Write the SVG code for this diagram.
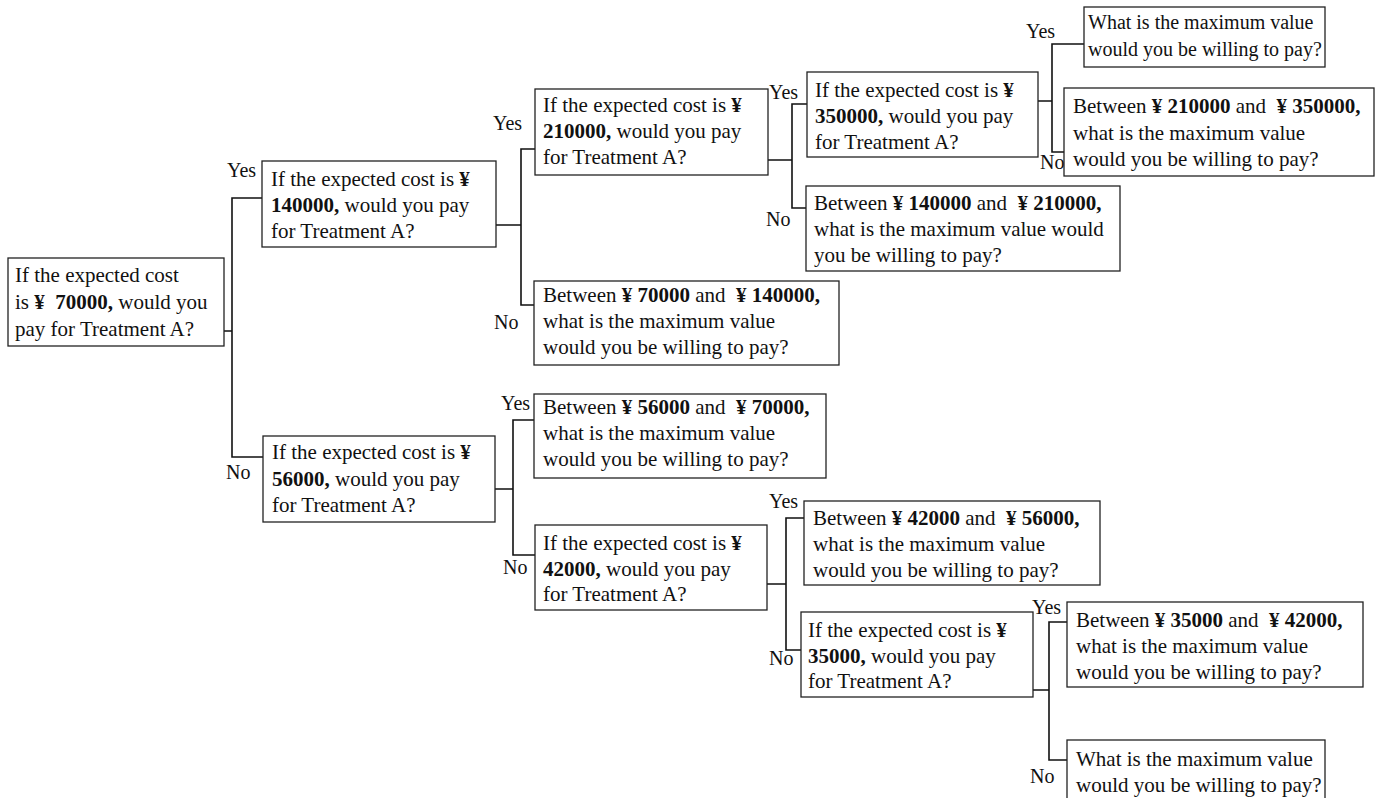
<svg xmlns="http://www.w3.org/2000/svg" width="1380" height="798" viewBox="0 0 1380 798">
<style>
.box{fill:#fff;stroke:#222;stroke-width:1.3}
.t{font-family:"Liberation Serif","Times New Roman",serif;font-size:21px;fill:#111}
.s{font-size:20px}
.b{font-weight:bold}
.conn{stroke:#111;stroke-width:1.6;fill:none}
</style>
<rect width="1380" height="798" fill="#fff"/>
<g id="connectors">
<path class="conn" d="M224,331 H232 M262,198 H232 V457 H263"/>
<path class="conn" d="M496,225 H521 M535,149 H521 V305 H534"/>
<path class="conn" d="M768,160 H792 M807,104 H792 V208 H806"/>
<path class="conn" d="M1038,101 H1052 M1084,44 H1052 V152 H1064"/>
<path class="conn" d="M495,489 H513 M534,420 H513 V555 H535"/>
<path class="conn" d="M767,584 H786 M804,518 H786 V650 H801"/>
<path class="conn" d="M1033,690 H1049 M1067,622 H1049 V760 H1067"/>
</g>
<g id="labels" class="t s">
<text x="227" y="177">Yes</text><text x="226" y="479">No</text>
<text x="493" y="130">Yes</text><text x="494" y="329">No</text>
<text x="769" y="99">Yes</text><text x="766" y="226">No</text>
<text x="1026" y="38">Yes</text><text x="1040" y="169">No</text>
<text x="501" y="410">Yes</text><text x="503" y="574">No</text>
<text x="769" y="508">Yes</text><text x="769" y="665">No</text>
<text x="1032" y="614">Yes</text><text x="1030" y="783">No</text>
</g>
<g id="root">
<rect class="box" x="8" y="258" width="216" height="88"/>
<text class="t" x="15" y="282">If the expected cost</text>
<text class="t" x="15" y="309" xml:space="preserve">is <tspan class="b">¥  70000,</tspan> would you</text>
<text class="t" x="15" y="336">pay for Treatment A?</text>
</g>
<g id="q140000">
<rect class="box" x="262" y="161" width="234" height="86"/>
<text class="t" x="271" y="186">If the expected cost is <tspan class="b">¥</tspan></text>
<text class="t" x="271" y="212"><tspan class="b">140000,</tspan> would you pay</text>
<text class="t" x="271" y="238">for Treatment A?</text>
</g>
<g id="q210000">
<rect class="box" x="535" y="89" width="233" height="86"/>
<text class="t" x="543" y="112">If the expected cost is <tspan class="b">¥</tspan></text>
<text class="t" x="543" y="138"><tspan class="b">210000,</tspan> would you pay</text>
<text class="t" x="543" y="164">for Treatment A?</text>
</g>
<g id="q350000">
<rect class="box" x="807" y="72" width="231" height="85"/>
<text class="t" x="815" y="97">If the expected cost is <tspan class="b">¥</tspan></text>
<text class="t" x="815" y="123"><tspan class="b">350000,</tspan> would you pay</text>
<text class="t" x="815" y="149">for Treatment A?</text>
</g>
<g id="leaf-max-top">
<rect class="box" x="1084" y="7" width="241" height="60"/>
<text class="t s" x="1088" y="29">What is the maximum value</text>
<text class="t s" x="1088" y="56">would you be willing to pay?</text>
</g>
<g id="leaf-210-350">
<rect class="box" x="1064" y="88" width="310" height="88"/>
<text class="t" x="1073" y="113" xml:space="preserve">Between <tspan class="b">¥ 210000</tspan> and  <tspan class="b">¥ 350000,</tspan></text>
<text class="t" x="1073" y="140">what is the maximum value</text>
<text class="t" x="1073" y="166">would you be willing to pay?</text>
</g>
<g id="leaf-140-210">
<rect class="box" x="806" y="186" width="314" height="85"/>
<text class="t" x="814" y="210" xml:space="preserve">Between <tspan class="b">¥ 140000</tspan> and  <tspan class="b">¥ 210000,</tspan></text>
<text class="t" x="814" y="236">what is the maximum value would</text>
<text class="t" x="814" y="262">you be willing to pay?</text>
</g>
<g id="leaf-70-140">
<rect class="box" x="534" y="281" width="305" height="84"/>
<text class="t" x="543" y="302" xml:space="preserve">Between <tspan class="b">¥ 70000</tspan> and  <tspan class="b">¥ 140000,</tspan></text>
<text class="t" x="543" y="328">what is the maximum value</text>
<text class="t" x="543" y="354">would you be willing to pay?</text>
</g>
<g id="leaf-56-70">
<rect class="box" x="534" y="394" width="292" height="84"/>
<text class="t" x="543" y="414" xml:space="preserve">Between <tspan class="b">¥ 56000</tspan> and  <tspan class="b">¥ 70000,</tspan></text>
<text class="t" x="543" y="440">what is the maximum value</text>
<text class="t" x="543" y="466">would you be willing to pay?</text>
</g>
<g id="q56000">
<rect class="box" x="263" y="436" width="232" height="86"/>
<text class="t" x="272" y="459">If the expected cost is <tspan class="b">¥</tspan></text>
<text class="t" x="272" y="486"><tspan class="b">56000,</tspan> would you pay</text>
<text class="t" x="272" y="512">for Treatment A?</text>
</g>
<g id="q42000">
<rect class="box" x="535" y="525" width="232" height="85"/>
<text class="t" x="543" y="550">If the expected cost is <tspan class="b">¥</tspan></text>
<text class="t" x="543" y="576"><tspan class="b">42000,</tspan> would you pay</text>
<text class="t" x="543" y="601">for Treatment A?</text>
</g>
<g id="leaf-42-56">
<rect class="box" x="804" y="501" width="296" height="84"/>
<text class="t" x="813" y="525" xml:space="preserve">Between <tspan class="b">¥ 42000</tspan> and  <tspan class="b">¥ 56000,</tspan></text>
<text class="t" x="813" y="551">what is the maximum value</text>
<text class="t" x="813" y="577">would you be willing to pay?</text>
</g>
<g id="q35000">
<rect class="box" x="801" y="612" width="232" height="85"/>
<text class="t" x="808" y="637">If the expected cost is <tspan class="b">¥</tspan></text>
<text class="t" x="808" y="663"><tspan class="b">35000,</tspan> would you pay</text>
<text class="t" x="808" y="688">for Treatment A?</text>
</g>
<g id="leaf-35-42">
<rect class="box" x="1067" y="602" width="296" height="85"/>
<text class="t" x="1076" y="627" xml:space="preserve">Between <tspan class="b">¥ 35000</tspan> and  <tspan class="b">¥ 42000,</tspan></text>
<text class="t" x="1076" y="653">what is the maximum value</text>
<text class="t" x="1076" y="679">would you be willing to pay?</text>
</g>
<g id="leaf-max-bottom">
<rect class="box" x="1067" y="740" width="258" height="62"/>
<text class="t" x="1076" y="766">What is the maximum value</text>
<text class="t" x="1076" y="792">would you be willing to pay?</text>
</g>
</svg>
